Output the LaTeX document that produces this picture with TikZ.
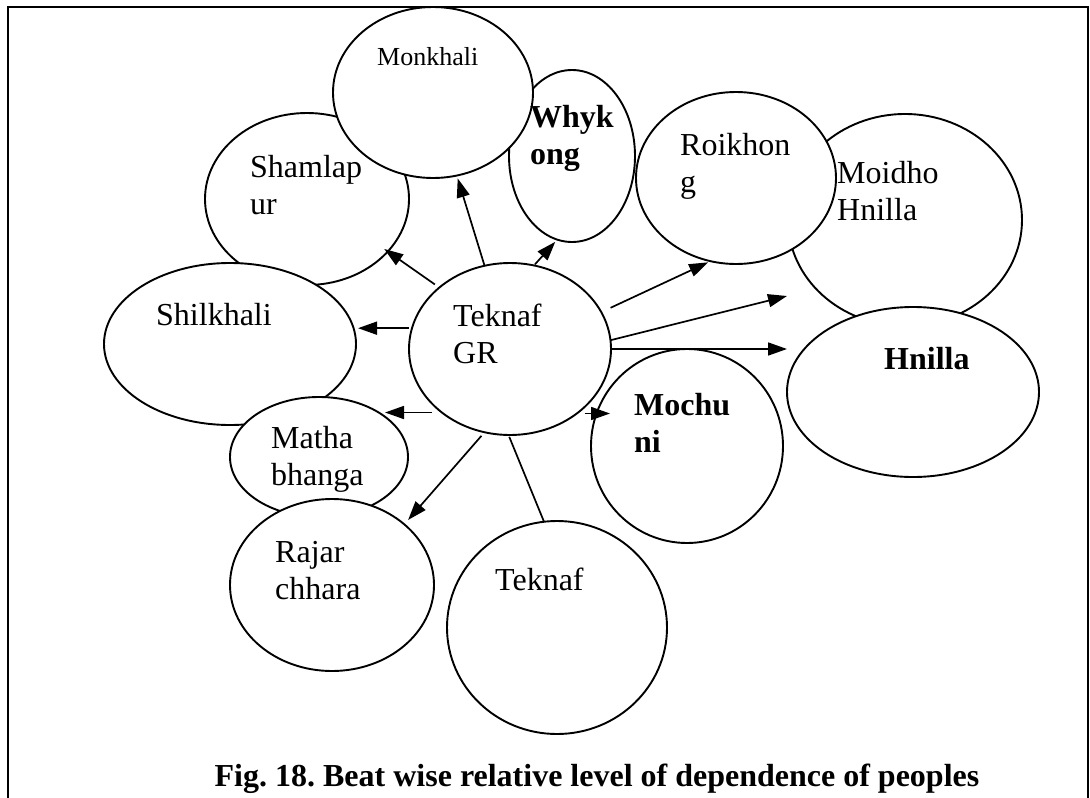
\documentclass[tikz,border=0pt]{standalone}
\usepackage{fontspec}
\setmainfont{Liberation Serif}
\usetikzlibrary{shapes.geometric,arrows.meta}
\frenchspacing
% two-line label whose baseline is the baseline of its first line
\newcommand{\twoline}[2]{\begin{tabular}[t]{@{}l@{}}#1\\#2\end{tabular}}
\begin{document}
\begin{tikzpicture}[x=1pt,y=-1pt,
  beat/.style={ellipse, draw, line width=1.9pt, fill=white, inner sep=0pt, outer sep=0pt},
  lbl/.style={anchor=base west, inner sep=0pt, font=\fontsize{32}{37}\selectfont},
  blbl/.style={anchor=base west, inner sep=0pt, font=\fontsize{32}{37}\selectfont\bfseries},
  link/.style={line width=1.7pt, -{Triangle[length=19pt,width=13pt]}},
  plainlink/.style={line width=1.7pt}]
\useasboundingbox (0,0) rectangle (1090,798);

% frame, open at the bottom
\draw[line width=2.5pt] (8,798) -- (8,7) -- (1088,7) -- (1088,798);

% beats (later ones cover earlier ones)
\node[beat, minimum width=204pt, minimum height=172pt] (sham) at (307,199) {};
\node[beat, minimum width=126pt, minimum height=172pt] (wk)   at (572,156) {};
\node[beat, minimum width=200pt, minimum height=171pt] (mk)   at (433,92.5) {};
\node[beat, minimum width=252pt, minimum height=162pt] (sh)   at (230,344) {};
\node[beat, minimum width=178pt, minimum height=120pt] (mb)   at (319,457) {};
\node[beat, minimum width=204pt, minimum height=172pt] (rc)   at (332,585) {};
\node[beat, minimum width=234pt, minimum height=212pt] (md)   at (905,220) {};
\node[beat, minimum width=200pt, minimum height=172pt] (rk)   at (736,178) {};
\node[beat, minimum width=252pt, minimum height=170pt] (hn)   at (913,392) {};
\node[beat, minimum width=202pt, minimum height=172pt] (gr)   at (510,349) {};
\node[beat, minimum width=192pt, minimum height=194pt] (mc)   at (687,446) {};
\node[beat, minimum width=220pt, minimum height=213pt] (tk)   at (557,627.5) {};

% labels
\node[lbl, font=\fontsize{26}{30}\selectfont] (tmk) at (377,65) {Monkhali};
\node[lbl]  (tsham) at (250,177) {\twoline{Shamlap}{ur}};
\node[lbl]  (tsh)   at (156,325) {Shilkhali};
\node[lbl]  (tgr)   at (453,326) {\twoline{Teknaf}{GR}};
\node[blbl] (twk)   at (530,127) {\twoline{Whyk}{ong}};
\node[lbl]  (trk)   at (680,155) {\twoline{Roikhon}{g}};
\node[lbl]  (tmd)   at (837,183) {\twoline{Moidho}{Hnilla}};
\node[blbl] (thn)   at (884,369) {Hnilla};
\node[blbl] (tmc)   at (634,415) {\twoline{Mochu}{ni}};
\node[lbl]  (tmb)   at (271,448) {\twoline{Matha}{bhanga}};
\node[lbl]  (trc)   at (275,562) {\twoline{Rajar}{chhara}};
\node[lbl]  (ttk)   at (495,590) {Teknaf};

% connectors from Teknaf GR
\coordinate (mdtip) at (787,296);
\draw[link, shorten <=5.5pt, shorten >=-4.4pt] (gr.139.9) -- (sham.327.9);
\draw[link, shorten <=0.7pt, shorten >=3pt] (gr.107.2) -- (mk.286.8);
\draw[link, shorten <=2.8pt, shorten >=2pt] (gr.168.3) -- (gr.168.3 -| sh.east);
\draw[link, shorten <=1.4pt, shorten >=3pt] (gr.74.2) -- (wk.260.9);
\draw[link, shorten <=10.3pt, shorten >=2.7pt] (gr.22.8) -- (rk.253.8);
\draw[link] (gr.5.7) -- (mdtip);
\draw[link] (gr.east) -- (gr.east -| hn.west);
\draw[link, shorten <=9.8pt, shorten >=5.5pt] (gr.223.7) -- (gr.223.7 -| mb.36);
\draw[link, shorten <=7.8pt, shorten >=-19pt] (gr.316.3) -- (gr.316.3 -| mc.west);
\draw[link, shorten <=4.8pt, shorten >=5.8pt] (gr.253.5) -- (rc.40.5);
\draw[plainlink, shorten <=2pt] (gr.269.4) -- (tk.97);

% caption
\node[anchor=base, inner sep=0pt, font=\fontsize{32}{37}\selectfont\bfseries] (cap) at (597,786)
  {Fig. 18. Beat wise relative level of dependence of peoples};
\end{tikzpicture}
\end{document}
